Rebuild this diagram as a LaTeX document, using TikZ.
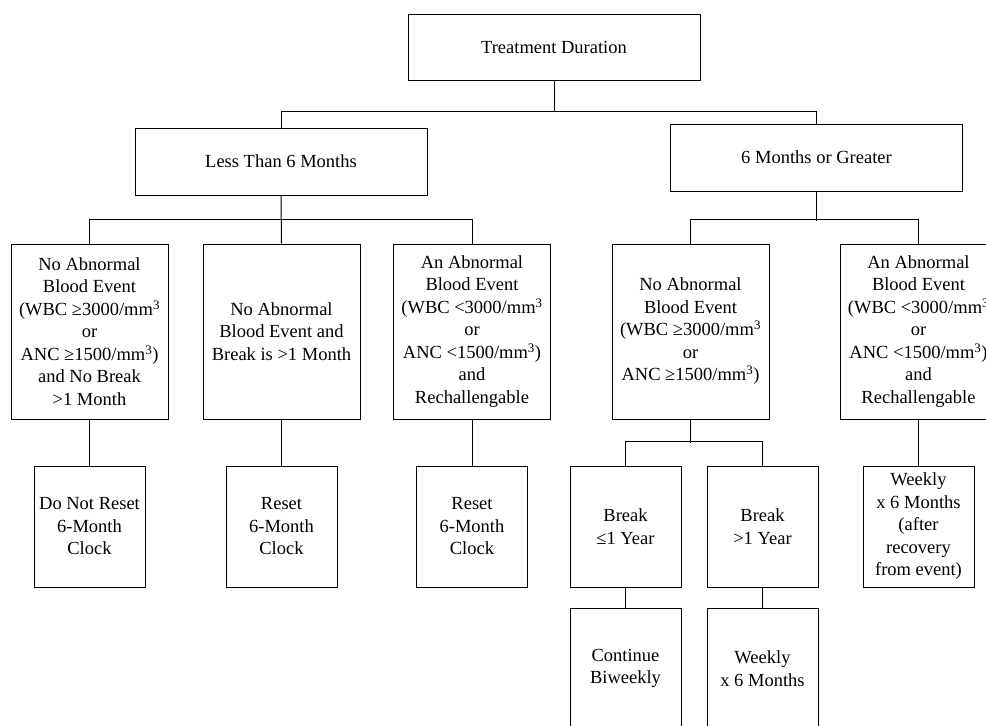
\documentclass[tikz,border=0pt]{standalone}
\usepackage{fontspec}
\setmainfont{Liberation Serif}
\newcommand{\cube}{\textsuperscript{3}}
\tikzstyle{box} = [rectangle,draw=black,line width=1pt,inner sep=0pt,align=center, font=\fontsize{18.5}{22.5}\selectfont]

\begin{document}
\begin{tikzpicture}[x=1pt,y=-1pt,line width=1pt,
  wide/.style={box,minimum width=292pt,minimum height=67pt},
  tall/.style={box,minimum width=157pt,minimum height=175pt},
  small/.style={box,minimum width=111pt,minimum height=121pt}]
\clip (0,0) rectangle (986,726);

% Define nodes
\node[wide, minimum height=66pt] (td) at (554,47)    {Treatment Duration};
\node[wide]                      (lt) at (281,161.5) {Less Than 6 Months};
\node[wide]                      (mg) at (816.5,157.5) {6 Months or Greater};

\node[tall] (na)  at (89.5,331.5)  {No Abnormal\\Blood Event\\(WBC ≥3000/mm\cube\\or\\ANC ≥1500/mm\cube)\\and No Break\\>1 Month};
\node[tall] (nb)  at (281.5,331.5) {No Abnormal\\Blood Event and\\Break is >1 Month};
\node[tall] (ab)  at (472,331.5)   {An Abnormal\\Blood Event\\(WBC <3000/mm\cube\\or\\ANC <1500/mm\cube)\\and\\Rechallengable};
\node[tall] (na2) at (690.5,331.5) {No Abnormal\\Blood Event\\(WBC ≥3000/mm\cube\\or\\ANC ≥1500/mm\cube)};
\node[tall] (ab2) at (918.5,331.5) {An Abnormal\\Blood Event\\(WBC <3000/mm\cube\\or\\ANC <1500/mm\cube)\\and\\Rechallengable};

\node[small] (r1) at (89.5,526.5)  {Do Not Reset\\6-Month\\Clock};
\node[small] (r2) at (281.5,526.5) {Reset\\6-Month\\Clock};
\node[small] (r3) at (472,526.5)   {Reset\\6-Month\\Clock};
\node[small] (bl) at (625.5,526.5) {Break\\≤1 Year};
\node[small] (bg) at (762.5,526.5) {Break\\>1 Year};
\node[small] (wk) at (918.5,526.5) {Weekly\\x 6 Months\\(after\\recovery\\from event)};

\node[small] (cb) at (625.5,668.5) {Continue\\Biweekly};
\node[small] (w6) at (762.5,668.5) {Weekly\\x 6 Months};

% Edges
\draw (td.south) -- ++(0,31) coordinate (t1);
\draw (lt.north) |- (t1) -| (mg.north);

\draw (lt.south) -- (nb.north);
\draw (na.north) -- ++(0,-24) -| (ab.north);
\draw (mg.south) -- ++(0,29);
\draw (na2.north) -- ++(0,-24) -| (ab2.north);

\draw (na) -- (r1);
\draw (nb) -- (r2);
\draw (ab) -- (r3);
\draw (ab2) -- (wk);
\draw (na2.south) -- ++(0,23);
\draw (bl.north) -- ++(0,-24) -| (bg.north);

\draw (bl) -- (cb);
\draw (bg) -- (w6);
\end{tikzpicture}
\end{document}
